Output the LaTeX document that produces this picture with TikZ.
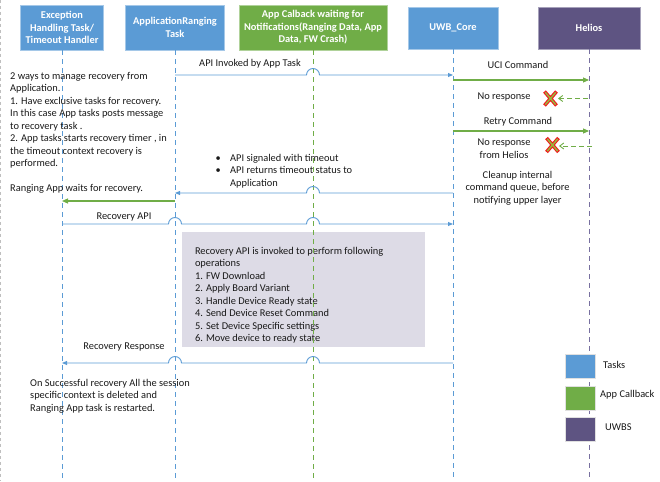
\documentclass[tikz,border=0pt]{standalone}
\usepackage{fontspec}
\setmainfont{Carlito}
\usetikzlibrary{arrows.meta,calc}
\definecolor{tblue}{HTML}{5B9BD5}
\definecolor{tgreen}{HTML}{70AD47}
\definecolor{tpurple}{RGB}{94,84,130}
\definecolor{lpurple}{RGB}{120,112,160}
\definecolor{boxgray}{RGB}{221,219,230}
\definecolor{xgreen}{RGB}{150,185,60}
\definecolor{xred}{RGB}{240,30,30}
\begin{document}
\begin{tikzpicture}[x=1pt,y=-1pt,
  txt/.style={font=\fontsize{10.4}{12.5}\selectfont, inner sep=0pt, text=black!90},
  hdr/.style={font=\bfseries\fontsize{10.4}{12.5}\selectfont, text=white, align=center, inner sep=0pt, minimum height=45pt},
  lifeblue/.style={draw=tblue, line width=0.8pt, dash pattern=on 5pt off 4pt},
  lifegreen/.style={draw=tgreen, line width=0.8pt, dash pattern=on 5pt off 4pt},
  lifepurple/.style={draw=lpurple, line width=0.8pt, dash pattern=on 5pt off 4pt},
  msgblue/.style={draw=tblue, line width=0.9pt, -{Triangle[length=5pt,width=4pt]}},
  msggreen/.style={draw=tgreen, line width=1.1pt, -{Triangle[length=6pt,width=5pt]}},
  noresp/.style={draw=tgreen, line width=0.9pt, dash pattern=on 5pt off 3pt, -{Straight Barb[length=4pt,width=6pt]}},
  legbox/.style={minimum width=30pt, minimum height=24pt, inner sep=0pt, draw=black!12, line width=0.6pt},
]
\useasboundingbox (0,0) rectangle (660,481);
\draw[black!25, dash pattern=on 3pt off 3pt, line width=0.5pt] (0.5,0) -- (0.5,481);

% header boxes
\node[hdr, fill=tblue, draw=tblue!55, line width=0.6pt, minimum width=83pt] (exc) at (62,27.5) {Exception\\Handling Task/\\Timeout Handler};
\node[hdr, fill=tblue, draw=tblue!55, line width=0.6pt, minimum width=99pt] (app) at (175,27.5) {ApplicationRanging\\Task};
\node[hdr, fill=tgreen, draw=tgreen!55, line width=0.6pt, minimum width=148pt] (cb) at (313,27.5) {App Calback waiting for\\Notifications(Ranging Data, App\\Data, FW Crash)};
\node[hdr, fill=tblue, draw=tblue!55, line width=0.6pt, minimum width=90pt, minimum height=42pt] (core) at (453,28) {UWB\_Core};
\node[hdr, fill=tpurple, draw=tpurple!55, line width=0.6pt, minimum width=102pt, minimum height=42pt] (hel) at (589,28) {Helios};

% gray recovery box
\node[fill=boxgray, minimum width=243pt, minimum height=115pt, inner sep=0pt] (rbox) at (303.5,289.5) {};
\node[txt, align=left, anchor=north west] (rtext) at ($(rbox.north west)+(13,15)$) {Recovery API is invoked to perform following\\operations\\1. FW Download\\2. Apply Board Variant\\3. Handle Device Ready state\\4. Send Device Reset Command\\5. Set Device Specific settings\\6. Move device to ready state};

% lifelines
\coordinate (L1) at (62,481);
\coordinate (L2) at (175,481);
\coordinate (L3) at (313,481);
\coordinate (L4) at (453,481);
\coordinate (L5) at (589,481);
\draw[lifeblue] (exc.south) -- (L1);
\draw[lifeblue] (app.south) -- (L2);
\draw[lifegreen] (cb.south) -- (L3);
\draw[lifeblue] (core.south) -- (L4);
\draw[lifepurple] (hel.south) -- (L5);

% message end points
\coordinate (m1s) at (175,75);  \coordinate (m1e) at (453,75);
\coordinate (m2s) at (453,80);  \coordinate (m2e) at (589,80);
\coordinate (m3s) at (453,131); \coordinate (m3e) at (589,131);
\coordinate (m4s) at (453,193); \coordinate (m4e) at (175,193);
\coordinate (m5s) at (175,201); \coordinate (m5e) at (62,201);
\coordinate (m6s) at (62,224);  \coordinate (m6e) at (453,224);
\coordinate (m7s) at (453,363); \coordinate (m7e) at (62,363);
\coordinate (d1s) at (588,98.5); \coordinate (d1e) at (558,98.5);
\coordinate (d2s) at (592,146);  \coordinate (d2e) at (559,146);
\coordinate (x1) at (550.5,98.5);
\coordinate (x2) at (552.5,145);

% messages
\draw[msgblue] (m1s) -- ($(m1s -| L3)+(-6.5,0)$) arc[start angle=180,end angle=0,radius=6.5pt] -- (m1e);
\draw[msggreen] (m2s) -- (m2e);
\draw[msggreen] (m3s) -- (m3e);
\draw[msgblue] (m4s) -- ($(m4s -| L3)+(6.5,0)$) arc[start angle=0,end angle=180,radius=6.5pt] -- (m4e);
\draw[msggreen] (m5s) -- (m5e);
\draw[msgblue] (m6s) -- ($(m6s -| L2)+(-6.5,0)$) arc[start angle=180,end angle=0,radius=6.5pt]
  -- ($(m6s -| L3)+(-6.5,0)$) arc[start angle=180,end angle=0,radius=6.5pt] -- (m6e);
\draw[msgblue] (m7s) -- ($(m7s -| L3)+(6.5,0)$) arc[start angle=0,end angle=180,radius=6.5pt]
  -- ($(m7s -| L2)+(6.5,0)$) arc[start angle=0,end angle=180,radius=6.5pt] -- (m7e);
\draw[noresp] (d1s) -- (d1e);
\draw[noresp] (d2s) -- (d2e);

% failure crosses
\foreach \p in {x1,x2}{
  \draw[xred, line width=3.6pt] ($(\p)+(-6,-7)$) -- ($(\p)+(6,7)$) ($(\p)+(-6,7)$) -- ($(\p)+(6,-7)$);
  \draw[xgreen, line width=1.4pt] ($(\p)+(-5.2,-6.1)$) -- ($(\p)+(5.2,6.1)$) ($(\p)+(-5.2,6.1)$) -- ($(\p)+(5.2,-6.1)$);
}

% labels
\node[txt] (t1) at (250,64) {API Invoked by App Task};
\node[txt] (t2) at (518,65) {UCI Command};
\node[txt] (t3) at (504,97) {No response};
\node[txt] (t4) at (518,122) {Retry Command};
\node[txt, align=center] (t5) at (504,148.5) {No response\\from Helios};
\node[txt, align=center] (t6) at (517.5,188) {Cleanup internal\\command queue, before\\notifying upper layer};
\node[txt, align=left, anchor=north west] (t7) at (215.5,154) {\makebox[14.5pt][l]{•}API signaled with timeout\\\makebox[14.5pt][l]{•}API returns timeout status to\\\hspace*{14.5pt}Application};
\node[txt, align=left, anchor=north west] (t8) at (10,72) {2 ways to manage recovery from\\Application.\\1. Have exclusive tasks for recovery.\\In this case App tasks posts message\\to recovery task .\\2. App tasks starts recovery timer , in\\the timeout context recovery is\\performed.\\[12.5pt]Ranging App waits for recovery.};
\node[txt] (t9) at (124,217) {Recovery API};
\node[txt] (t10) at (124,347) {Recovery Response};
\node[txt, align=left, anchor=north west] (t11) at (30,379) {On Successful recovery All the session\\specific context is deleted and\\Ranging App task is restarted.};

% legend
\node[legbox, fill=tblue] (lg1) at (580,366) {};
\node[legbox, fill=tgreen] (lg2) at (580,398) {};
\node[legbox, fill=tpurple] (lg3) at (580,429) {};
\node[txt, anchor=west] (lt1) at (603,365) {Tasks};
\node[txt, anchor=west] (lt2) at (600,395) {App Callback};
\node[txt, anchor=west] (lt3) at (605,427) {UWBS};
\end{tikzpicture}
\end{document}
